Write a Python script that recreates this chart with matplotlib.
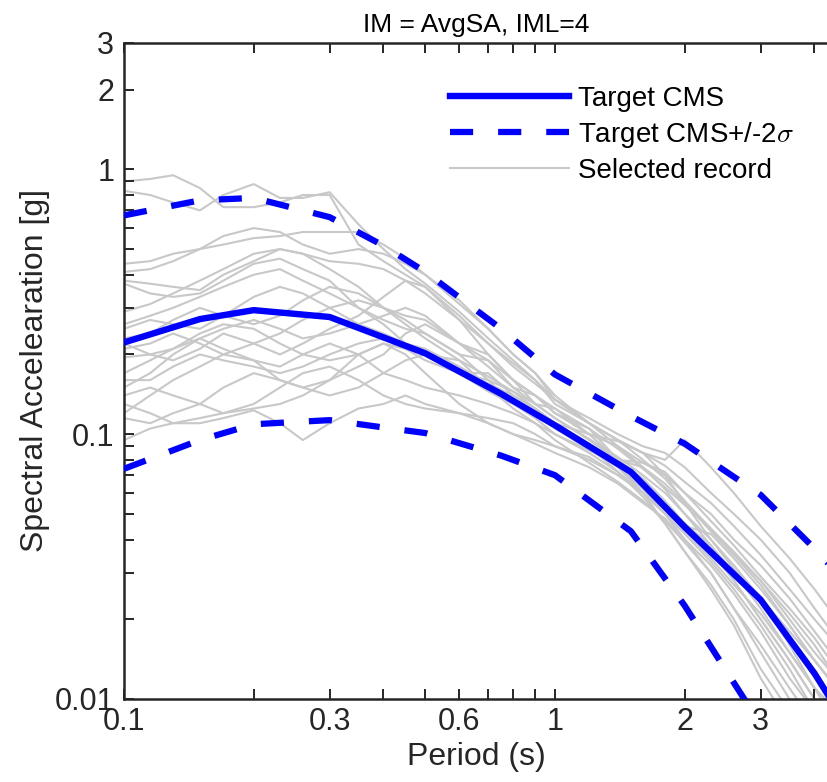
import matplotlib.pyplot as plt
import numpy as np
from matplotlib.ticker import FixedLocator, NullFormatter

plt.rcParams['font.family'] = ['Liberation Sans', 'DejaVu Sans']
plt.rcParams['mathtext.fontset'] = 'cm'

# target conditional mean spectrum (periods in s, SA in g)
cms_T = [0.1, 0.15, 0.2, 0.3, 0.4, 0.5, 0.75, 1.0, 1.5, 2.0, 3.0, 4.0, 5.0]
cms_med = [0.222, 0.272, 0.294, 0.277, 0.232, 0.202, 0.142, 0.108, 0.072, 0.0446, 0.0237, 0.0125, 0.0070]
cms_hi = [0.67, 0.764, 0.78, 0.66, 0.515, 0.41, 0.25, 0.168, 0.117, 0.092, 0.059, 0.037, 0.025]
cms_lo = [0.074, 0.095, 0.109, 0.113, 0.106, 0.101, 0.083, 0.070, 0.043, 0.0225, 0.0080, 0.0037, 0.0020]

# selected ground motion records
rec_T = [0.1, 0.115, 0.13, 0.15, 0.17, 0.2, 0.23, 0.26, 0.3, 0.35, 0.4, 0.45, 0.5, 0.6, 0.7,
         0.8, 0.9, 1.0, 1.2, 1.4, 1.6, 1.8, 2.0, 2.3, 2.6, 3.0, 3.5, 4.0, 4.5]
records = [
    [0.90, 0.92, 0.95, 0.85, 0.72, 0.72, 0.75, 0.80, 0.80, 0.52, 0.45, 0.40, 0.36, 0.28, 0.22,
     0.18, 0.155, 0.135, 0.11, 0.09, 0.075, 0.062, 0.05, 0.04, 0.032, 0.024, 0.016, 0.011, 0.008],
    [0.83, 0.80, 0.75, 0.70, 0.80, 0.88, 0.78, 0.78, 0.82, 0.62, 0.50, 0.42, 0.37, 0.29, 0.23,
     0.19, 0.16, 0.135, 0.11, 0.095, 0.08, 0.068, 0.056, 0.044, 0.035, 0.027, 0.019, 0.014, 0.011],
    [0.44, 0.45, 0.48, 0.50, 0.52, 0.55, 0.56, 0.58, 0.58, 0.58, 0.52, 0.46, 0.40, 0.31, 0.25,
     0.20, 0.17, 0.135, 0.115, 0.10, 0.09, 0.085, 0.075, 0.06, 0.05, 0.04, 0.03, 0.022, 0.017],
    [0.41, 0.42, 0.45, 0.50, 0.56, 0.60, 0.58, 0.52, 0.48, 0.50, 0.48, 0.44, 0.40, 0.32, 0.25,
     0.20, 0.17, 0.14, 0.11, 0.095, 0.085, 0.08, 0.095, 0.075, 0.06, 0.045, 0.034, 0.026, 0.02],
    [0.38, 0.37, 0.36, 0.35, 0.40, 0.45, 0.50, 0.48, 0.42, 0.36, 0.30, 0.28, 0.27, 0.22, 0.19,
     0.16, 0.14, 0.12, 0.10, 0.09, 0.078, 0.07, 0.055, 0.043, 0.035, 0.028, 0.02, 0.015, 0.012],
    [0.37, 0.34, 0.33, 0.34, 0.38, 0.44, 0.46, 0.42, 0.38, 0.30, 0.26, 0.22, 0.20, 0.17, 0.145,
     0.13, 0.12, 0.105, 0.088, 0.075, 0.062, 0.05, 0.04, 0.03, 0.022, 0.016, 0.011, 0.008, 0.006],
    [0.26, 0.28, 0.30, 0.33, 0.36, 0.40, 0.42, 0.38, 0.34, 0.30, 0.27, 0.25, 0.24, 0.20, 0.19,
     0.15, 0.14, 0.12, 0.105, 0.08, 0.075, 0.065, 0.055, 0.04, 0.031, 0.024, 0.018, 0.014, 0.011],
    [0.25, 0.27, 0.26, 0.25, 0.28, 0.33, 0.36, 0.34, 0.30, 0.26, 0.24, 0.22, 0.21, 0.18, 0.155,
     0.14, 0.125, 0.11, 0.092, 0.075, 0.06, 0.046, 0.036, 0.027, 0.02, 0.013, 0.009, 0.006, 0.005],
    [0.22, 0.20, 0.21, 0.23, 0.25, 0.27, 0.25, 0.23, 0.24, 0.26, 0.28, 0.30, 0.28, 0.22, 0.20,
     0.16, 0.13, 0.125, 0.10, 0.094, 0.085, 0.07, 0.06, 0.05, 0.04, 0.032, 0.024, 0.018, 0.014],
    [0.21, 0.22, 0.24, 0.22, 0.20, 0.22, 0.24, 0.27, 0.30, 0.32, 0.30, 0.27, 0.24, 0.20, 0.16,
     0.13, 0.115, 0.10, 0.085, 0.072, 0.06, 0.05, 0.042, 0.033, 0.026, 0.019, 0.013, 0.009, 0.007],
    [0.195, 0.20, 0.19, 0.21, 0.24, 0.22, 0.20, 0.22, 0.25, 0.28, 0.33, 0.38, 0.36, 0.27, 0.20,
     0.16, 0.14, 0.125, 0.105, 0.088, 0.074, 0.063, 0.054, 0.044, 0.036, 0.028, 0.021, 0.016, 0.012],
    [0.17, 0.19, 0.21, 0.24, 0.26, 0.25, 0.22, 0.20, 0.19, 0.20, 0.22, 0.21, 0.19, 0.17, 0.16,
     0.145, 0.13, 0.115, 0.096, 0.082, 0.07, 0.06, 0.05, 0.038, 0.028, 0.02, 0.014, 0.01, 0.008],
    [0.16, 0.16, 0.18, 0.20, 0.19, 0.18, 0.17, 0.18, 0.20, 0.22, 0.23, 0.21, 0.20, 0.17, 0.17,
     0.14, 0.125, 0.11, 0.10, 0.08, 0.078, 0.072, 0.06, 0.047, 0.038, 0.029, 0.022, 0.017, 0.013],
    [0.15, 0.17, 0.20, 0.23, 0.21, 0.19, 0.16, 0.15, 0.14, 0.15, 0.17, 0.19, 0.20, 0.19, 0.165,
     0.145, 0.125, 0.11, 0.09, 0.072, 0.058, 0.046, 0.036, 0.026, 0.019, 0.012, 0.008, 0.006, 0.004],
    [0.12, 0.14, 0.16, 0.18, 0.20, 0.19, 0.18, 0.20, 0.22, 0.20, 0.17, 0.16, 0.15, 0.14, 0.13,
     0.12, 0.11, 0.10, 0.087, 0.076, 0.064, 0.052, 0.043, 0.034, 0.027, 0.021, 0.015, 0.011, 0.009],
    [0.115, 0.11, 0.12, 0.13, 0.15, 0.17, 0.16, 0.15, 0.16, 0.18, 0.20, 0.24, 0.26, 0.22, 0.18,
     0.15, 0.13, 0.115, 0.095, 0.08, 0.068, 0.056, 0.046, 0.036, 0.028, 0.02, 0.014, 0.01, 0.008],
    [0.14, 0.15, 0.14, 0.13, 0.12, 0.13, 0.15, 0.17, 0.18, 0.16, 0.14, 0.13, 0.125, 0.12, 0.115,
     0.11, 0.10, 0.09, 0.08, 0.07, 0.06, 0.05, 0.045, 0.042, 0.034, 0.026, 0.019, 0.014, 0.011],
    [0.13, 0.12, 0.11, 0.115, 0.12, 0.125, 0.13, 0.14, 0.16, 0.20, 0.22, 0.20, 0.17, 0.13, 0.11,
     0.10, 0.095, 0.09, 0.082, 0.07, 0.06, 0.052, 0.046, 0.038, 0.03, 0.022, 0.015, 0.011, 0.009],
    [0.29, 0.31, 0.34, 0.38, 0.42, 0.48, 0.50, 0.48, 0.45, 0.44, 0.42, 0.38, 0.34, 0.27, 0.22,
     0.185, 0.16, 0.13, 0.11, 0.095, 0.085, 0.076, 0.066, 0.055, 0.045, 0.035, 0.026, 0.02, 0.016],
    [0.23, 0.24, 0.27, 0.30, 0.28, 0.26, 0.28, 0.32, 0.36, 0.34, 0.30, 0.26, 0.23, 0.19, 0.15,
     0.125, 0.11, 0.095, 0.078, 0.066, 0.056, 0.047, 0.039, 0.03, 0.022, 0.015, 0.01, 0.007, 0.005],
    [0.095, 0.105, 0.11, 0.11, 0.115, 0.123, 0.11, 0.095, 0.11, 0.125, 0.13, 0.14, 0.13, 0.12, 0.11,
     0.10, 0.092, 0.085, 0.075, 0.065, 0.055, 0.048, 0.04, 0.032, 0.025, 0.018, 0.012, 0.009, 0.007],
]

xticks = [0.1, 0.3, 0.6, 1, 2, 3]
xticklabels = ['0.1', '0.3', '0.6', '1', '2', '3']
yticks = [0.01, 0.1, 1, 2, 3]
yticklabels = ['0.01', '0.1', '1', '2', '3']

txt = '#262626'
fig = plt.figure(figsize=(8.28, 7.82), dpi=100)
ax = fig.add_axes([124/828, 1 - 699/782, 1 - 124/828, (699 - 43)/782])

for i, r in enumerate(records):
    ax.plot(rec_T, r, color='#c8c8c8', lw=1.5,
            label='Selected record' if i == 0 else None, zorder=1)
ax.plot(cms_T, cms_med, color='#0000ff', lw=4.6, label='Target CMS', zorder=3)
ax.plot(cms_T, cms_hi, color='#0000ff', lw=4.5, dashes=(3.7, 4.0),
        dash_capstyle='butt', label=r'Target CMS+/-2$\sigma$', zorder=3)
ax.plot(cms_T, cms_lo, color='#0000ff', lw=4.5, dashes=(3.7, 4.0),
        dash_capstyle='butt', zorder=3)

ax.set_xscale('log')
ax.set_yscale('log')
ax.set_xlim(0.1, 4.3)
ax.set_ylim(0.01, 3)

ax.xaxis.set_major_locator(FixedLocator(xticks))
ax.set_xticklabels(xticklabels)
ax.xaxis.set_minor_locator(FixedLocator([0.2, 0.4, 0.5, 0.7, 0.8, 0.9, 4]))
ax.xaxis.set_minor_formatter(NullFormatter())
ax.yaxis.set_major_locator(FixedLocator(yticks))
ax.set_yticklabels(yticklabels)
ymin = [k * 0.01 for k in range(2, 10)] + [k * 0.1 for k in range(2, 10)]
ax.yaxis.set_minor_locator(FixedLocator(ymin))
ax.yaxis.set_minor_formatter(NullFormatter())

ax.tick_params(which='both', direction='in', top=True, right=False,
               length=7, width=1.4, color=txt, labelcolor=txt, labelsize=22)
ax.tick_params(axis='x', pad=6)
ax.tick_params(axis='y', pad=7)
for s in ['left', 'bottom', 'top']:
    ax.spines[s].set_linewidth(1.8)
    ax.spines[s].set_color(txt)
ax.spines['right'].set_visible(False)

ax.set_xlabel('Period (s)', fontsize=23, color=txt, labelpad=3)
ax.set_ylabel('Spectral Accelearation [g]', fontsize=23, color=txt, labelpad=3)
ax.set_title('IM = AvgSA, IML=4', fontsize=19, color='black', pad=8)

h, lab = ax.get_legend_handles_labels()
order = [lab.index('Target CMS'), lab.index(r'Target CMS+/-2$\sigma$'), lab.index('Selected record')]
ax.legend([h[i] for i in order], [lab[i] for i in order], loc='upper left',
          bbox_to_anchor=(450/828, 1 - 86/782), bbox_transform=fig.transFigure,
          frameon=False, fontsize=20, handlelength=4.3, handletextpad=0.3,
          labelspacing=0.28, borderpad=0, borderaxespad=0)

fig.savefig('out.png', dpi=100)
